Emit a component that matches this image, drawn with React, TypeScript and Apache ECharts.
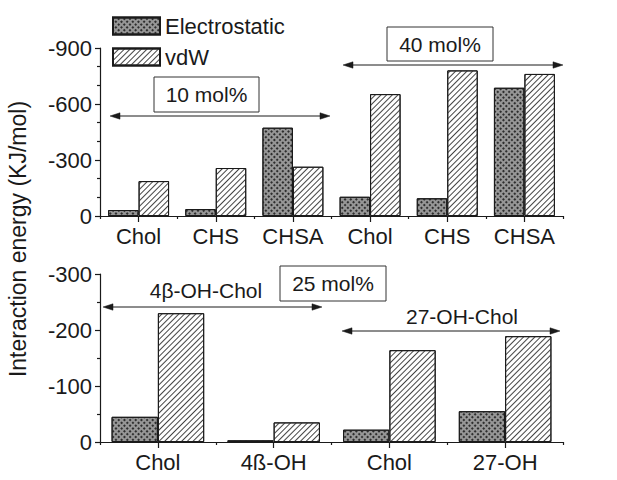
import React, { useEffect, useRef } from "react";
import * as echarts from "echarts";

const topCategories = ["Chol", "CHS", "CHSA", "Chol", "CHS", "CHSA"];
const topElectrostatic = [-32, -37, -473, -103, -95, -687];
const topVdw = [-187, -257, -264, -653, -780, -761];

const bottomCategories = ["Chol", "4ß-OH", "Chol", "27-OH"];
const bottomElectrostatic = [-45, -3, -22, -55];
const bottomVdw = [-230, -35, -164, -189];

const seriesNames = ["Electrostatic", "vdW"];
const yAxisTitle = "Interaction energy (KJ/mol)";

const FONT = "'Liberation Sans', Arial, sans-serif";
const INK = "#1a1a1a";

const elecStyle = {
  color: "#969696",
  borderColor: INK,
  borderWidth: 1,
  decal: {
    symbol: "rect",
    symbolSize: 1,
    color: "#2e2e2e",
    dashArrayX: [2, 2],
    dashArrayY: [2, 2],
    rotation: Math.PI / 4,
  },
};
const vdwStyle = {
  color: "#ffffff",
  borderColor: INK,
  borderWidth: 1,
  decal: {
    symbol: "rect",
    symbolSize: 1,
    color: "#444444",
    dashArrayX: [1, 0],
    dashArrayY: [1, 3],
    rotation: -Math.PI / 4,
  },
};

function arrow(x1: number, x2: number, y: number) {
  const h = 10;
  const w = 3.2;
  const s = { fill: INK, stroke: INK, lineWidth: 0.5 };
  return [
    { type: "line", shape: { x1: x1 + 4, y1: y, x2: x2 - 4, y2: y }, style: { stroke: INK, lineWidth: 1 } },
    { type: "polygon", shape: { points: [[x1, y], [x1 + h, y - w], [x1 + h, y + w]] }, style: s },
    { type: "polygon", shape: { points: [[x2, y], [x2 - h, y - w], [x2 - h, y + w]] }, style: s },
  ];
}

function boxLabel(x: number, y: number, w: number, h: number, text: string) {
  return [
    { type: "rect", shape: { x, y, width: w, height: h }, style: { fill: "#fff", stroke: "#333", lineWidth: 1 } },
    {
      type: "text",
      x: x + w / 2,
      y: y + h / 2,
      style: { text, fontSize: 21, fontFamily: FONT, fill: INK, align: "center", verticalAlign: "middle" },
    },
  ];
}

function plainLabel(x: number, y: number, text: string) {
  return {
    type: "text",
    x,
    y,
    style: { text, fontSize: 21, fontFamily: FONT, fill: INK, align: "center", verticalAlign: "middle" },
  };
}

function xAxes(gridIndex: number, data: string[]) {
  const line = { show: true, lineStyle: { color: INK, width: 1.2 } };
  return [
    {
      type: "category",
      gridIndex,
      data,
      position: "bottom",
      axisLine: line,
      axisTick: { show: true, alignWithLabel: true, interval: 0, length: 6, lineStyle: { color: INK, width: 1.2 } },
      axisLabel: { interval: 0, hideOverlap: false, fontSize: 22, fontFamily: FONT, color: INK, margin: 9 },
    },
    {
      type: "category",
      gridIndex,
      data,
      position: "bottom",
      axisLine: { show: false },
      axisTick: { show: true, interval: 0, length: 3, lineStyle: { color: INK, width: 1.2 } },
      axisLabel: { show: false },
    },
  ];
}

function yAxis(gridIndex: number, min: number, interval: number, split: number) {
  return {
    type: "value",
    gridIndex,
    min,
    max: 0,
    interval,
    inverse: true,
    axisLine: { show: true, lineStyle: { color: INK, width: 1.2 } },
    axisTick: { show: true, length: 5, lineStyle: { color: INK, width: 1.2 } },
    minorTick: { show: true, splitNumber: split, length: 3, lineStyle: { color: INK, width: 1.2 } },
    splitLine: { show: false },
    axisLabel: { fontSize: 22, fontFamily: FONT, color: INK, margin: 8 },
  };
}

export default function App() {
  const ref = useRef<HTMLDivElement>(null);
  useEffect(() => {
    if (!ref.current) return;
    const chart = echarts.init(ref.current, null, { renderer: "svg" });
    chart.setOption({
      animation: false,
      backgroundColor: "#ffffff",
      textStyle: { fontFamily: FONT },
      legend: {
        data: seriesNames,
        orient: "vertical",
        left: 112,
        top: 15,
        itemWidth: 47,
        itemHeight: 17,
        itemGap: 9,
        icon: "rect",
        textStyle: { fontSize: 22, fontFamily: FONT, color: INK, padding: [0, 0, 0, 0] },
        padding: 0,
      },
      grid: [
        { left: 100, top: 48, width: 463, height: 168 },
        { left: 100, top: 274, width: 463, height: 168 },
      ],
      xAxis: [...xAxes(0, topCategories), ...xAxes(1, bottomCategories)],
      yAxis: [yAxis(0, -900, 300, 3), yAxis(1, -300, 100, 2)],
      series: [
        {
          name: seriesNames[0],
          type: "bar",
          xAxisIndex: 0,
          yAxisIndex: 0,
          data: topElectrostatic,
          itemStyle: elecStyle,
          barGap: "0%",
          barCategoryGap: "21%",
        },
        {
          name: seriesNames[1],
          type: "bar",
          xAxisIndex: 0,
          yAxisIndex: 0,
          data: topVdw,
          itemStyle: vdwStyle,
          barGap: "0%",
          barCategoryGap: "21%",
        },
        {
          name: seriesNames[0],
          type: "bar",
          xAxisIndex: 2,
          yAxisIndex: 1,
          data: bottomElectrostatic,
          itemStyle: elecStyle,
          barGap: "0%",
          barCategoryGap: "20%",
        },
        {
          name: seriesNames[1],
          type: "bar",
          xAxisIndex: 2,
          yAxisIndex: 1,
          data: bottomVdw,
          itemStyle: vdwStyle,
          barGap: "0%",
          barCategoryGap: "20%",
        },
      ],
      graphic: [
        ...arrow(110, 330, 116),
        ...boxLabel(154, 77, 105, 35, "10 mol%"),
        ...arrow(343, 563, 65),
        ...boxLabel(387, 27, 106, 34, "40 mol%"),
        ...arrow(103, 322, 307),
        plainLabel(206, 290, "4β-OH-Chol"),
        ...boxLabel(280, 266, 106, 35, "25 mol%"),
        ...arrow(342, 560, 331),
        plainLabel(462, 316, "27-OH-Chol"),
        {
          type: "text",
          x: 18,
          y: 239,
          rotation: Math.PI / 2,
          style: { text: yAxisTitle, fontSize: 23, fontFamily: FONT, fill: INK, align: "center", verticalAlign: "middle" },
        },
      ],
    });
    return () => chart.dispose();
  }, []);
  return <div ref={ref} style={{ position: "absolute", left: 0, top: 0, width: 617, height: 480 }} />;
}
